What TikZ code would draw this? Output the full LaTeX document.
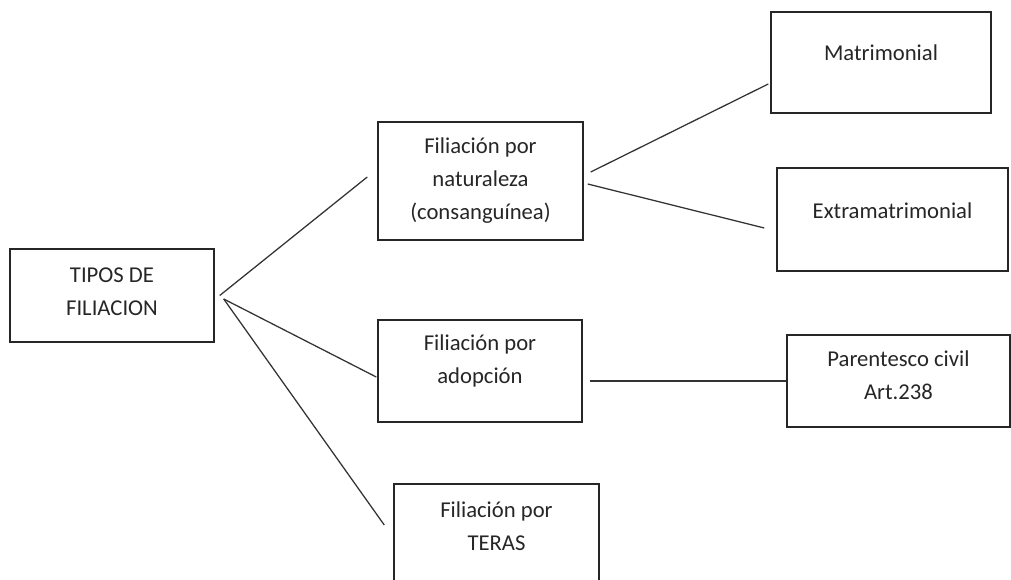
\documentclass[tikz,border=0pt]{standalone}
\usepackage{fontspec}
\setmainfont{Carlito}
\usetikzlibrary{calc}
\newcommand{\bajo}[1]{\rule[-#1]{0pt}{#1}}
\tikzset{
	caja/.style={draw=black!85, line width=1.1pt, align=center, inner sep=0pt,
		font=\fontsize{17}{24.75}\selectfont, text=black!85},
	linea/.style={draw=black!80, line width=0.95pt}
}

\begin{document}
\begin{tikzpicture}[x=0.75pt, y=-0.75pt]
	\useasboundingbox (0,0) rectangle (1011,580);
	
	%boxes
	\node[caja, minimum width=153pt, minimum height=69.75pt] (tipos) at (112,295.5) {TIPOS DE\\FILIACION\bajo{6pt}};
	\node[caja, minimum width=153.75pt, minimum height=88.5pt] (nat) at (480.5,181) {Filiación por\\naturaleza\\(consanguínea)};
	\node[caja, minimum width=165pt, minimum height=75.75pt] (mat) at (881,62.5) {Matrimonial\bajo{15pt}};
	\node[caja, minimum width=173.25pt, minimum height=77.25pt] (ext) at (892.5,219.5) {Extramatrimonial\bajo{14pt}};
	\node[caja, minimum width=153pt, minimum height=76.5pt] (adop) at (480,371) {Filiación por\\adopción\bajo{18pt}};
	\node[caja, minimum width=167.25pt, minimum height=69pt] (par) at (898.5,381) {Parentesco civil\\Art.238\bajo{9pt}};
	\node[caja, minimum width=153.75pt, minimum height=76.5pt] (teras) at (496.5,535) {Filiación por\\TERAS\bajo{13pt}};
	
	%lines
	\draw[linea] ($(tipos.east)+(5,0)$) -- ($(nat.west)+(-10,-4)$);
	\draw[linea] ($(tipos.east)+(9,3.5)$) -- ($(adop.west)+(-1,6)$);
	\draw[linea] ($(tipos.east)+(9,3.5)$) -- ($(teras.west)+(-9,-10)$);
	\draw[linea] ($(nat.east)+(7,-9)$) -- ($(mat.west)+(-2,21.5)$);
	\draw[linea] ($(nat.east)+(4,3)$) -- ($(ext.west)+(-12,8.5)$);
	\draw[linea] ($(adop.east)+(7,10)$) -- ($(par.west)$);
\end{tikzpicture}
\end{document}
